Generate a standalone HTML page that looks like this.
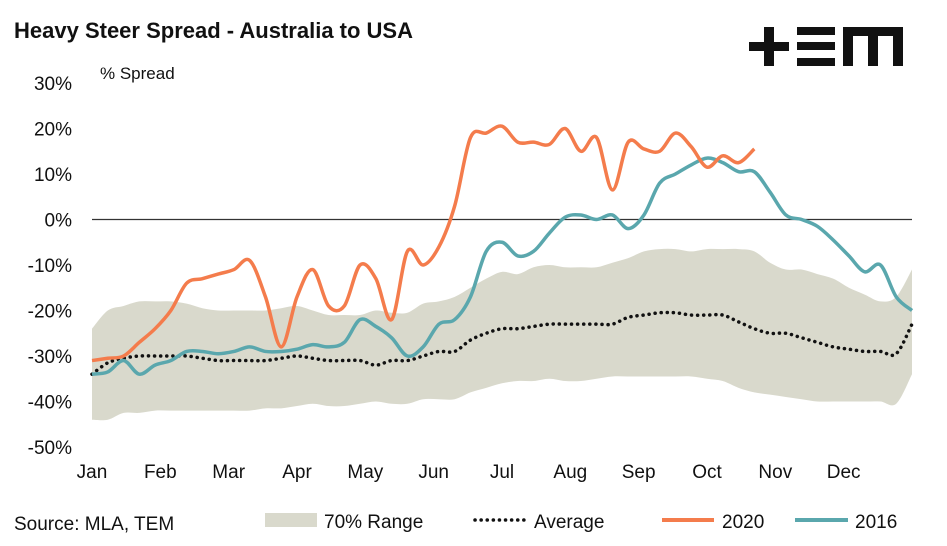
<!DOCTYPE html>
<html><head><meta charset="utf-8"><style>
body{margin:0;background:#fff;font-family:"Liberation Sans",sans-serif}
svg text{font-family:"Liberation Sans",sans-serif;fill:#111}
</style></head><body>
<svg width="947" height="541" viewBox="0 0 947 541">
<text x="14" y="38" font-size="22" font-weight="bold">Heavy Steer Spread - Australia to USA</text>
<g fill="#111">
<rect x="749" y="42" width="40" height="9"/><rect x="764" y="27" width="10" height="39"/>
<rect x="797" y="27" width="38" height="8"/><rect x="797" y="42" width="38" height="8"/><rect x="797" y="58" width="38" height="8"/>
<rect x="843" y="27" width="60" height="9"/><rect x="843" y="27" width="10" height="39"/><rect x="868" y="27" width="10" height="39"/><rect x="893" y="27" width="10" height="39"/>
</g>
<text x="100" y="79" font-size="17">% Spread</text>
<g id="yticks"></g><g id="xticks"></g>
<g id="plot"></g>
<text x="14" y="530" font-size="19">Source: MLA, TEM</text>
<g>
<g><rect x="265" y="513" width="52" height="14" fill="#d9d9cc"/><text x="324" y="528" font-size="19">70% Range</text></g>
<g><line x1="475" y1="520" x2="527" y2="520" stroke="#111" stroke-width="3.5" stroke-dasharray="0.1 6" stroke-linecap="round"/><text x="534" y="528" font-size="19">Average</text></g>
<g><line x1="662" y1="520" x2="714" y2="520" stroke="#f47c4c" stroke-width="4"/><text x="722" y="528" font-size="19">2020</text></g>
<g><line x1="795" y1="520" x2="848" y2="520" stroke="#5aa7ad" stroke-width="4"/><text x="855" y="528" font-size="19">2016</text></g>
</g>
</svg>
<script>
const months=["Jan","Feb","Mar","Apr","May","Jun","Jul","Aug","Sep","Oct","Nov","Dec"];
const yTicks=[30,20,10,0,-10,-20,-30,-40,-50];
const rangeUpper=[-24,-20,-19,-18,-18,-18,-18.5,-19.5,-20,-20,-20,-20,-19.5,-19,-20,-21,-21,-21,-20,-20.5,-20.5,-18.5,-18,-17,-15,-13,-11.5,-12,-10.5,-10,-10.5,-10.5,-10.5,-9.5,-8.5,-7,-6.5,-6.5,-7,-6.5,-6.5,-6.5,-7,-9.5,-11,-11,-12,-13,-15,-16.5,-18,-17,-11];
const rangeLower=[-44,-44,-42.5,-42.5,-42,-42,-42,-42,-42,-42,-42,-41.5,-41.5,-41,-40.5,-41,-41,-40.5,-40,-40.5,-40.5,-39.5,-39.5,-39.5,-38,-37,-36,-35.5,-35.5,-35,-35.5,-35.5,-35,-34.5,-34.5,-34.5,-34.5,-34.5,-34.5,-35,-35.5,-37,-38,-38.5,-39,-39.5,-40,-40,-40,-40,-40,-40.5,-34];
const average=[-34,-31.5,-30.5,-30,-30,-30,-30,-30.5,-31,-31,-31,-31,-30.5,-30,-30.5,-31,-31,-31,-32,-31,-31,-30,-29,-29,-26.5,-25,-24,-24,-23.5,-23,-23,-23,-23,-23,-21.5,-21,-20.5,-20.5,-21,-21,-21,-22.5,-24,-25,-25,-26,-27,-28,-28.5,-29,-29,-29.5,-23];
const s2020=[-31,-30.5,-30,-27,-24,-20,-14,-13,-12,-11,-9,-17,-28,-17,-11,-19,-19,-10,-13,-22,-7,-10,-6,3,18,19,20.5,17,17,16.5,20,15,18,6.5,17,15.5,15,19,16,11.5,14,12.5,15.5];
const s2016=[-34,-33.5,-31,-34,-32,-31,-29,-29,-29.5,-29,-28,-29,-29,-28.5,-27.5,-28,-27,-22,-23.5,-26,-30,-28,-23,-22,-17,-7,-5,-8,-7,-3,0.5,1,0,1,-2,1,8,10,12,13.5,12.5,10.5,10.5,6,1,0,-1.5,-4.5,-8,-11.5,-10,-17,-20];
const X0=92,X1=912,Y30=83,Y50=447;
const xs=i=>X0+i*(X1-X0)/52;
const ys=v=>Y30+(30-v)*(Y50-Y30)/80;
const NS="http://www.w3.org/2000/svg";
function mk(t,a,p){const e=document.createElementNS(NS,t);for(const k in a)e.setAttribute(k,a[k]);p.appendChild(e);return e;}
function smooth(pts){let d="M"+pts[0][0]+","+pts[0][1];for(let i=0;i<pts.length-1;i++){const p0=pts[Math.max(0,i-1)],p1=pts[i],p2=pts[i+1],p3=pts[Math.min(pts.length-1,i+2)];const c1=[p1[0]+(p2[0]-p0[0])/6,p1[1]+(p2[1]-p0[1])/6],c2=[p2[0]-(p3[0]-p1[0])/6,p2[1]-(p3[1]-p1[1])/6];d+=" C"+c1[0]+","+c1[1]+" "+c2[0]+","+c2[1]+" "+p2[0]+","+p2[1];}return d;}
const yg=document.getElementById("yticks"),xg=document.getElementById("xticks"),pg=document.getElementById("plot");
yTicks.forEach(v=>{const t=mk("text",{x:72,y:ys(v)+7,"font-size":19,"text-anchor":"end"},yg);t.textContent=v+"%";

});
months.forEach((m,i)=>{const t=mk("text",{x:X0+i*(X1-X0)/12,y:478,"font-size":19,"text-anchor":"middle"},xg);t.textContent=m;

});
const up=rangeUpper.map((v,i)=>[xs(i),ys(v)]),lo=rangeLower.map((v,i)=>[xs(i),ys(v)]).reverse();
const band=mk("path",{d:smooth(up)+" L"+smooth(lo).slice(1)+" Z",fill:"#d9d9cc"},pg);


const zl=mk("line",{x1:X0,x2:X1,y1:ys(0),y2:ys(0),stroke:"#333","stroke-width":1.2},pg);


const av=mk("path",{d:smooth(average.map((v,i)=>[xs(i),ys(v)])),fill:"none",stroke:"#111","stroke-width":3.5,"stroke-dasharray":"0.1 6","stroke-linecap":"round"},pg);


const l16=mk("path",{d:smooth(s2016.map((v,i)=>[xs(i),ys(v)])),fill:"none",stroke:"#5aa7ad","stroke-width":3.5},pg);


const l20=mk("path",{d:smooth(s2020.map((v,i)=>[xs(i),ys(v)])),fill:"none",stroke:"#f47c4c","stroke-width":3.5},pg);


</script>
</body></html>
